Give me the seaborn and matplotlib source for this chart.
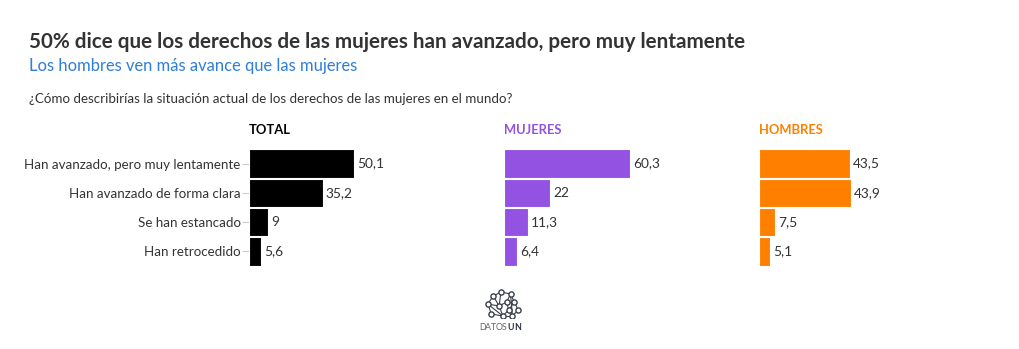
import matplotlib
matplotlib.use("Agg")
import matplotlib.pyplot as plt
import seaborn as sns
import pandas as pd
import numpy as np

categories = ["Han avanzado, pero muy lentamente", "Han avanzado de forma clara",
              "Se han estancado", "Han retrocedido"]
total = [50.1, 35.2, 9, 5.6]
mujeres = [60.3, 22, 11.3, 6.4]
hombres = [43.5, 43.9, 7.5, 5.1]
panel_names = ["TOTAL", "MUJERES", "HOMBRES"]
panel_colors = ["#000000", "#9452E2", "#FF8000"]

title = "50% dice que los derechos de las mujeres han avanzado, pero muy lentamente"
subtitle = "Los hombres ven más avance que las mujeres"
question = "¿Cómo describirías la situación actual de los derechos de las mujeres en el mundo?"

sns.set_theme(style="white")
plt.rcParams['font.family'] = ['Lato', 'DejaVu Sans']

W, H = 1020, 349
fig = plt.figure(figsize=(W / 100, H / 100), dpi=100)

def fx(px):
    return px / W

def fy(py):
    return 1 - py / H

fig.text(fx(29), fy(42), title, fontsize=14.9, fontweight="bold", color="#333333",
         va="center", ha="left")
fig.text(fx(29), fy(66), subtitle, fontsize=11.9, color="#2F7ED8", va="center", ha="left")
fig.text(fx(29), fy(99), question, fontsize=9.65, color="#333333", va="center", ha="left")

series = [total, mujeres, hombres]
lefts = [249, 504, 759]
ax_w = 230
ax_top, ax_bot = 149, 266
xmax = ax_w / 2.09

for i, (vals, name, col, left) in enumerate(zip(series, panel_names, panel_colors, lefts)):
    ax = fig.add_axes([fx(left), fy(ax_bot), fx(ax_w), (ax_bot - ax_top) / H])
    df = pd.DataFrame({"cat": categories, "val": vals})
    sns.barplot(data=df, x="val", y="cat", ax=ax, color=col, width=0.97,
                edgecolor="white", linewidth=0.8, saturation=1)
    ax.set_xlim(0, xmax)
    ax.set_ylim(len(categories) - 0.5, -0.5)
    ax.set_xlabel("")
    ax.set_ylabel("")
    ax.set_xticks([])
    for s in ax.spines.values():
        s.set_visible(False)
    for j, v in enumerate(vals):
        lab = f"{v:g}".replace(".", ",")
        ax.text(v + 1.6, j, lab, va="center", ha="left", fontsize=9.9, color="#333333")
    if i == 0:
        ax.tick_params(axis="y", left=True, length=5, width=0.8, color="#CCCCCC",
                       labelsize=9.6, labelcolor="#333333", pad=1)
    else:
        ax.set_yticks([])
    fig.text(fx(left), fy(130), name, fontsize=9.4, fontweight="bold",
             color=col, va="center", ha="left")

# logo (decorative)
lax = fig.add_axes([fx(480), fy(318), fx(42), 30 / H])
lax.set_xlim(0, 44)
lax.set_ylim(30, 0)
lax.axis("off")
nodes = np.array([[8, 16], [14, 8], [22, 4], [32, 6], [36, 14], [40, 22],
                  [30, 22], [20, 18], [12, 26], [24, 28], [34, 28], [28, 14]])
edges = [(0, 1), (1, 2), (2, 3), (3, 4), (4, 5), (5, 10), (10, 9), (9, 8), (8, 0),
         (0, 7), (7, 1), (7, 2), (7, 11), (11, 3), (11, 6), (6, 4), (6, 10), (6, 9),
         (7, 9), (11, 4), (3, 10), (0, 9)]
for a, b in edges:
    lax.plot(nodes[[a, b], 0], nodes[[a, b], 1], color="#3A3F4A", lw=0.8)
lax.scatter(nodes[:, 0], nodes[:, 1], s=14, facecolor="white", edgecolor="#3A3F4A",
            linewidth=1.0, zorder=3)
logo_letters = ["D", "A", "T", "O", "S", "U", "N"]
logo_x = [479, 485, 490.5, 496, 502, 507.5, 514.5]
for k, (ch, xp) in enumerate(zip(logo_letters, logo_x)):
    bold = k >= 5
    fig.text(fx(xp), fy(327), ch, fontsize=6.3,
             color="#2B3040" if bold else "#666666",
             fontweight="bold" if bold else "normal", ha="left", va="center")

fig.savefig("out.png", dpi=100, facecolor="white")
